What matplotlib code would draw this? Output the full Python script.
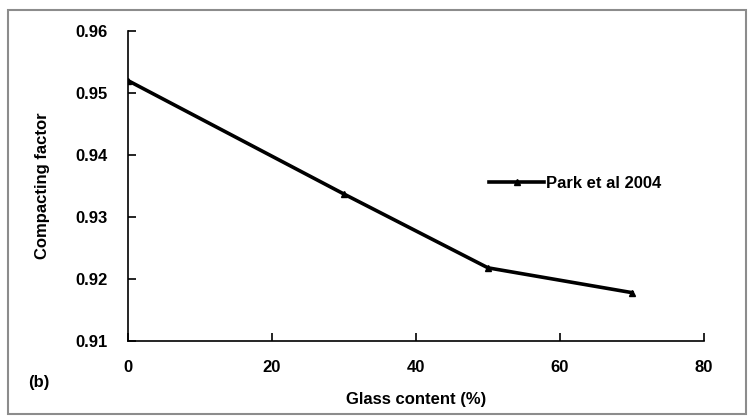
import matplotlib
matplotlib.use("Agg")
import matplotlib.pyplot as plt
from matplotlib.patches import Rectangle

glass = [0, 30, 50, 70]
cf = [0.952, 0.9337, 0.9218, 0.9178]
series_name = "Park et al 2004"
xticks = [0, 20, 40, 60, 80]
yticks = [0.91, 0.92, 0.93, 0.94, 0.95, 0.96]

plt.rcParams['font.family'] = ['Liberation Sans', 'DejaVu Sans']
plt.rcParams['font.weight'] = 'bold'

fig = plt.figure(figsize=(7.54, 4.2), dpi=100)
fig.patches.append(Rectangle((8/754, 6/420), 738/754, 404/420, transform=fig.transFigure,
                             fill=False, edgecolor='#8c8c8c', linewidth=1.5))
ax = fig.add_axes([128/754, 1-341/420, 576/754, 310/420])
ax.plot(glass, cf, color='black', linewidth=2.6, marker='^', markersize=5, label=series_name)
ax.set_xlim(0, 80)
ax.set_ylim(0.91, 0.96)
ax.set_xticks(xticks)
ax.set_yticks(yticks)
ax.set_yticklabels([f"{v:.2f}" for v in yticks])
for s in ['top', 'right']:
    ax.spines[s].set_visible(False)
for s in ['left', 'bottom']:
    ax.spines[s].set_linewidth(1.2)
ax.tick_params(direction='in', length=6, width=1.2, labelsize=12)
ax.tick_params(axis='x', pad=14)
ax.tick_params(axis='y', pad=15)
for lab in ax.get_xticklabels() + ax.get_yticklabels():
    lab.set_fontweight('bold')
ax.set_xlabel("Glass content (%)", fontsize=12, fontweight='bold', labelpad=12)
ax.set_ylabel("Compacting factor", fontsize=12, fontweight='bold', labelpad=18)
fig.text(28/754, 1-383/420, "(b)", fontsize=12, fontweight='bold', va='center')
leg = ax.legend(loc='center left', bbox_to_anchor=(481/754, 1-183/420), bbox_transform=fig.transFigure,
                frameon=False, fontsize=12, handlelength=3.3, handletextpad=0.1, borderpad=0)
plt.setp(leg.get_texts(), fontweight='bold')
fig.savefig("out.png", dpi=100)
